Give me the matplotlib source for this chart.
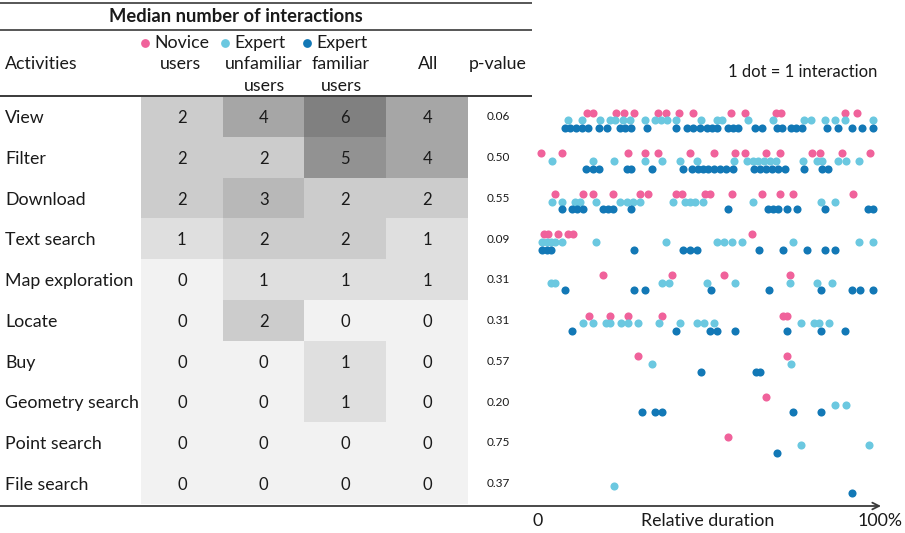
import numpy as np
import matplotlib
matplotlib.use("Agg")
import matplotlib.pyplot as plt
from matplotlib.colors import LinearSegmentedColormap
from matplotlib.transforms import blended_transform_factory

plt.rcParams["font.family"] = ["Lato", "DejaVu Sans"]

# ---------------- data ----------------
activities = ["View", "Filter", "Download", "Text search", "Map exploration",
              "Locate", "Buy", "Geometry search", "Point search", "File search"]

median_novice = [2, 2, 2, 1, 0, 0, 0, 0, 0, 0]
median_unfamiliar = [4, 2, 3, 2, 1, 2, 0, 0, 0, 0]
median_familiar = [6, 5, 2, 2, 1, 0, 1, 1, 0, 0]
median_all = [4, 4, 2, 1, 1, 0, 0, 0, 0, 0]
p_values = ["0.06", "0.50", "0.55", "0.09", "0.31", "0.31", "0.57", "0.20", "0.75", "0.37"]

# relative time (% of session) of each interaction, per activity
novice_times = [
    [14.3, 16.3, 22.9, 25.4, 28.3, 35.4, 37.6, 41.6, 45.7, 56.8, 60.9, 69.9, 71.4, 90.3, 93.7],
    [0.9, 7.1, 26.5, 31.5, 35.3, 44.7, 51.8, 57.9, 60.9, 67.1, 71.2, 80.6, 82.9, 89.4, 97.6],
    [5.0, 13.2, 16.2, 22.1, 30.0, 32.4, 40.6, 42.4, 49.1, 50.6, 57.1, 65.9, 71.2, 75.0, 92.6],
    [1.8, 2.9, 5.9, 8.8, 10.3, 62.9],
    [19.1, 39.4, 54.7, 74.1],
    [15.0, 21.2, 26.5, 36.5, 72.1, 73.2],
    [29.3, 73.1],
    [67.0],
    [55.8],
    [],
]
unfamiliar_times = [
    [8.8, 12.9, 18.2, 21.2, 22.6, 25.0, 27.1, 31.5, 34.4, 36.2, 37.9, 40.6, 47.9, 52.6,
     54.1, 61.8, 69.1, 78.2, 80.3, 84.4, 87.4, 90.3, 98.5],
    [4.1, 16.2, 22.4, 31.5, 36.5, 41.8, 46.8, 57.6, 61.5, 63.2, 64.7, 66.5, 68.2, 70.0,
     77.9, 82.1, 83.5, 88.2, 90.6, 94.4],
    [4.1, 7.1, 10.9, 12.4, 17.1, 24.1, 26.2, 27.9, 30.0, 39.7, 43.2, 44.7, 46.2, 48.5,
     63.2, 83.2, 87.4],
    [1.2, 2.6, 3.8, 5.0, 7.1, 17.1, 37.6, 52.6, 54.7, 57.1, 60.0, 75.0, 94.4, 98.5],
    [3.8, 5.0, 36.5, 38.5, 49.7, 57.9, 74.1, 82.1, 86.5],
    [13.2, 16.2, 20.0, 21.2, 24.4, 26.5, 29.4, 35.6, 41.8, 46.8, 48.8, 51.8, 77.4, 81.2,
     82.6, 85.6],
    [33.6, 74.3],
    [87.4, 90.5],
    [77.4, 97.4],
    [22.4],
]
familiar_times = [
    [7.9, 9.4, 11.2, 12.9, 14.7, 17.9, 20.3, 24.1, 25.6, 27.4, 32.1, 40.6, 43.8, 45.6,
     47.6, 49.7, 51.2, 52.6, 55.9, 57.4, 58.8, 63.8, 65.9, 70.3, 71.8, 74.4, 75.9, 77.6,
     85.0, 88.2, 92.4, 95.3, 98.5],
    [14.1, 16.2, 17.9, 26.2, 27.4, 33.5, 42.6, 45.3, 47.1, 48.5, 50.0, 51.8, 53.5, 55.3,
     57.4, 63.5, 65.3, 67.1, 68.8, 70.6, 72.6, 78.2, 83.5, 85.3],
    [7.1, 10.0, 11.5, 13.2, 19.1, 20.6, 22.1, 27.4, 55.9, 67.6, 69.1, 70.6, 73.2, 76.2,
     84.4, 97.1, 98.5],
    [1.2, 2.6, 3.8, 28.2, 42.6, 44.7, 46.8, 65.0, 72.1, 79.1, 84.4, 87.4],
    [7.9, 28.2, 31.5, 50.9, 67.9, 83.2, 92.4, 94.7, 98.5],
    [10.0, 40.6, 50.6, 52.6, 57.9, 73.2, 83.2, 90.3],
    [47.9, 64.0, 65.3],
    [30.5, 34.4, 36.6, 75.1, 83.2],
    [70.2],
    [92.4],
]

groups = ["Novice", "Expert", "Expert"]
group_sub = [["users"], ["unfamiliar", "users"], ["familiar", "users"]]
group_colors = ["#f0629b", "#6bc8e0", "#1278b6"]

# ---------------- figure ----------------
W, H = 905, 533
fig = plt.figure(figsize=(W / 100, H / 100), dpi=100)


def fx(px):
    return px / W


def fy(py):
    return 1 - py / H


RULE = "#3a3a3a"
TXT = "#1a1a1a"
FS = 12.8

# overlay in pixel coordinates for headers, rules and annotations
ov = fig.add_axes([0, 0, 1, 1], zorder=5)
ov.set_xlim(0, W)
ov.set_ylim(H, 0)
ov.axis("off")

# heatmap of medians
ax_h = fig.add_axes([fx(141), fy(504), (468 - 141) / W, (504 - 96.5) / H])
mat = np.array([median_novice, median_unfamiliar, median_familiar, median_all]).T
cmap = LinearSegmentedColormap.from_list("greys_soft", ["#f2f2f2", "#808080"])
ax_h.imshow(mat, cmap=cmap, vmin=0, vmax=6, aspect="auto", interpolation="nearest")
for i in range(mat.shape[0]):
    for j in range(mat.shape[1]):
        ax_h.text(j, i + 0.03, str(mat[i, j]), ha="center", va="center", fontsize=12, color=TXT)
ax_h.axis("off")

row_tr = blended_transform_factory(ov.transData, ax_h.transData)
for i, name in enumerate(activities):
    ov.text(5, i + 0.03, name, transform=row_tr, ha="left", va="center", fontsize=FS, color=TXT)
    ov.text(498, i, p_values[i], transform=row_tr, ha="center", va="center",
            fontsize=8.5, color=TXT)

# header
ov.plot([0, 532], [3, 3], color=RULE, lw=1.2, solid_capstyle="butt")
ov.plot([0, 532], [30, 30], color=RULE, lw=1.2, solid_capstyle="butt")
ov.plot([0, 532], [96, 96], color=RULE, lw=1.4, solid_capstyle="butt")
ov.text(236, 17, "Median number of interactions", ha="center", va="center",
        fontsize=13.2, fontweight="bold", color=TXT)
ov.text(5, 64, "Activities", ha="left", va="center", fontsize=FS, color=TXT)

dot_x = [145, 225, 307]
sub_x = [180, 264, 341]
for k in range(3):
    ov.scatter([dot_x[k]], [43], s=40, color=group_colors[k], linewidths=0)
    ov.text(dot_x[k] + 9, 43, groups[k], ha="left", va="center", fontsize=FS, color=TXT)
    for m, line in enumerate(group_sub[k]):
        ov.text(sub_x[k], 64 + 22 * m, line, ha="center", va="center", fontsize=FS, color=TXT)
ov.text(428, 64, "All", ha="center", va="center", fontsize=FS, color=TXT)
ov.text(498, 64, "p-value", ha="center", va="center", fontsize=FS, color=TXT)

# dot strips
PX_PER_PCT = 3.4
X0 = 538
ROW0, ROW_H = 120.3, 40.6
d_l, d_r, d_t, d_b = 520, 890, 96, 507
ax_d = fig.add_axes([fx(d_l), fy(d_b), (d_r - d_l) / W, (d_b - d_t) / H])
ax_d.set_xlim((d_l - X0) / PX_PER_PCT, (d_r - X0) / PX_PER_PCT)
ax_d.set_ylim((d_b - ROW0) / ROW_H, (d_t - ROW0) / ROW_H)
ax_d.axis("off")

offsets = [-0.19, 0.0, 0.19]
for times, off, col in zip([novice_times, unfamiliar_times, familiar_times], offsets, group_colors):
    for i, xs in enumerate(times):
        if xs:
            ax_d.scatter(xs, [i + off] * len(xs), s=34, color=col, linewidths=0)

ov.text(803, 72, "1 dot = 1 interaction", ha="center", va="center", fontsize=12, color=TXT)

# time axis
ov.annotate("", xy=(881, 506), xytext=(0, 506),
            arrowprops=dict(arrowstyle="->", color=RULE, lw=1.3, shrinkA=0, shrinkB=0,
                            mutation_scale=12))
ov.text(538, 521, "0", ha="center", va="center", fontsize=FS, color=TXT)
ov.text(708, 521, "Relative duration", ha="center", va="center", fontsize=FS, color=TXT)
ov.text(880, 521, "100%", ha="center", va="center", fontsize=FS, color=TXT)

fig.savefig("out.png", dpi=100)
